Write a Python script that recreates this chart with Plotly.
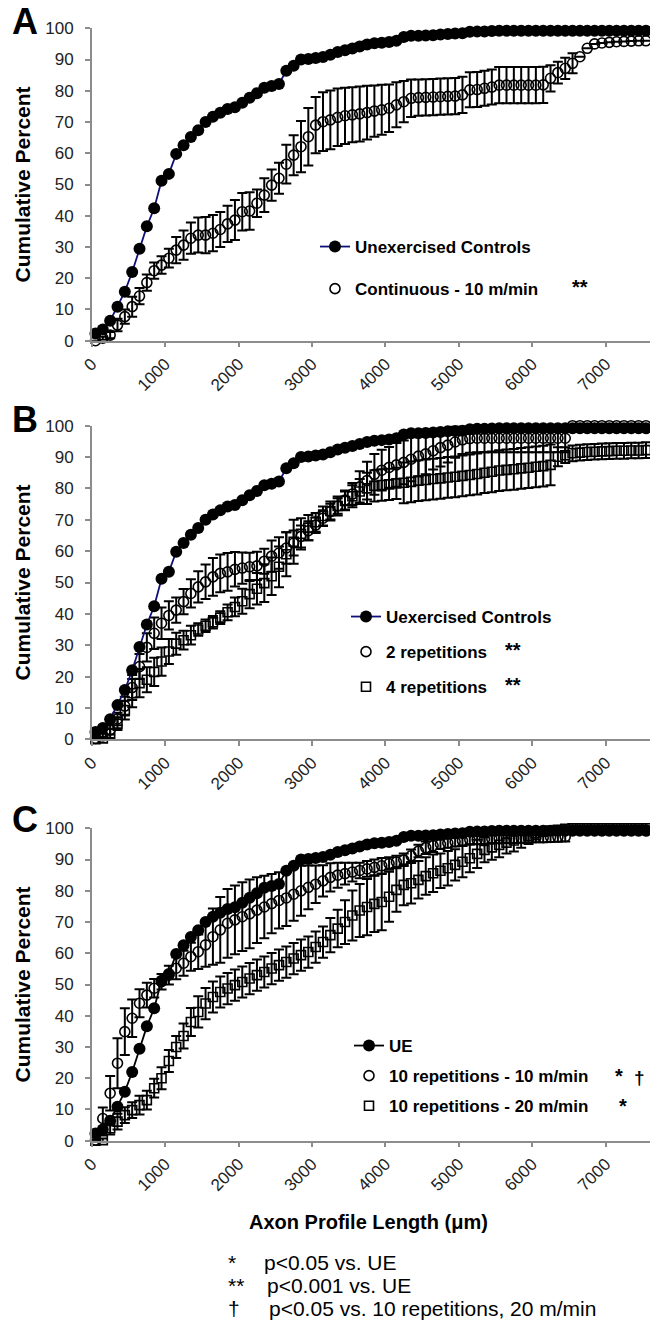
import plotly.graph_objects as go

# ---------------- data ----------------
length_um = [50, 150, 250, 350, 450, 550, 650, 750, 850, 950,
             1050, 1150, 1250, 1350, 1450, 1550, 1650, 1750, 1850, 1950,
             2050, 2150, 2250, 2350, 2450, 2550, 2650, 2750, 2850, 2950,
             3050, 3150, 3250, 3350, 3450, 3550, 3650, 3750, 3850, 3950,
             4050, 4150, 4250, 4350, 4450, 4550, 4650, 4750, 4850, 4950,
             5050, 5150, 5250, 5350, 5450, 5550, 5650, 5750, 5850, 5950,
             6050, 6150, 6250, 6350, 6450, 6550, 6650, 6750, 6850, 6950,
             7050, 7150, 7250, 7350, 7450, 7550]

ue = [2.3, 3.6, 6.4, 10.9, 15.7, 22.0, 29.4, 36.6, 42.4, 51.2,
      53.4, 59.8, 62.6, 65.2, 67.4, 70.0, 71.7, 73.0, 74.2, 74.7,
      76.2, 77.8, 79.2, 81.0, 81.5, 82.2, 86.4, 88.0, 90.0, 90.2,
      90.5, 90.8, 91.5, 92.4, 93.0, 93.5, 94.2, 94.8, 95.2, 95.4,
      95.6, 96.0, 97.2, 97.6, 97.6, 97.7, 97.8, 98.0, 98.2, 98.3,
      98.4, 98.9, 99.0, 99.0, 99.1, 99.2, 99.2, 99.2, 99.2, 99.2,
      99.2, 99.2, 99.2, 99.2, 99.2, 99.2, 99.2, 99.2, 99.2, 99.2,
      99.2, 99.2, 99.2, 99.2, 99.2, 99.2]

continuous_10 = [0.0, 0.8, 1.8, 5.0, 7.7, 10.9, 14.3, 18.6, 22.4, 24.2,
                 26.4, 29.0, 30.6, 32.8, 33.8, 33.8, 34.4, 35.6, 37.4, 38.6,
                 41.3, 41.5, 44.0, 46.6, 49.8, 52.0, 56.5, 59.4, 62.1, 65.3,
                 69.0, 70.1, 70.7, 71.5, 72.0, 72.3, 72.6, 73.0, 73.5, 73.9,
                 74.4, 75.5, 76.5, 77.6, 77.8, 77.9, 78.0, 78.1, 78.2, 78.3,
                 78.7, 80.3, 80.4, 80.8, 81.2, 81.8, 81.8, 81.8, 81.8, 81.8,
                 81.8, 81.9, 84.0, 85.8, 87.2, 88.8, 90.9, 93.6, 95.0, 95.3,
                 95.5, 95.7, 95.8, 95.9, 96.0, 96.0]
continuous_10_err = [0.0, 0.5, 1.0, 2.0, 2.3, 3.2, 2.6, 2.6, 2.6, 2.8,
                     3.0, 4.2, 4.7, 5.0, 5.6, 5.8, 5.8, 5.6, 5.8, 6.4,
                     6.0, 6.0, 4.4, 5.4, 5.0, 5.0, 6.2, 6.4, 8.2, 9.2,
                     9.0, 9.4, 9.4, 9.2, 9.0, 8.8, 8.8, 8.6, 8.2, 8.0,
                     7.6, 7.2, 6.6, 6.0, 5.8, 5.8, 5.8, 5.8, 5.8, 5.8,
                     5.8, 5.6, 5.6, 5.6, 5.6, 5.8, 5.8, 5.8, 5.8, 5.8,
                     5.8, 5.8, 4.2, 3.5, 3.4, 3.2, 0.0, 0.0, 0.0, 0.0,
                     0.0, 0.0, 0.0, 0.0, 0.0, 0.0]

reps_2 = [0.3, 1.1, 3.0, 6.5, 10.6, 16.5, 23.2, 29.3, 33.8, 37.0,
          39.5, 41.2, 43.9, 46.5, 48.6, 50.2, 51.8, 52.9, 53.4, 54.2,
          54.6, 55.0, 55.3, 56.8, 58.4, 59.4, 61.0, 62.6, 64.7, 66.5,
          68.3, 70.5, 72.6, 74.4, 76.3, 78.2, 80.5, 82.5, 84.5, 85.8,
          86.7, 87.5, 88.3, 89.3, 90.3, 91.0, 92.0, 93.0, 93.8, 94.8,
          95.5, 95.9, 96.0, 96.0, 96.0, 96.0, 96.0, 96.0, 96.0, 96.0,
          96.0, 96.0, 96.0, 96.0, 96.0, 100.0, 100.0, 100.0, 100.0, 100.0,
          100.0, 100.0, 100.0, 100.0, 100.0, 100.0]
reps_2_err = [0.3, 0.8, 1.5, 2.0, 3.0, 4.0, 4.0, 4.5, 5.0, 5.0,
              4.5, 4.0, 4.0, 4.5, 5.0, 5.5, 6.0, 6.0, 6.0, 5.5,
              5.0, 4.5, 4.5, 4.0, 5.0, 5.0, 5.0, 4.0, 3.5, 3.0,
              2.5, 2.5, 2.5, 2.5, 3.0, 3.5, 5.0, 6.0, 6.5, 6.5,
              6.5, 7.0, 7.0, 7.0, 6.5, 6.5, 6.0, 6.0, 5.5, 5.0,
              4.5, 4.5, 4.5, 4.5, 4.5, 4.5, 4.5, 4.5, 4.5, 4.5,
              4.5, 4.5, 4.5, 4.5, 4.5, 0.0, 0.0, 0.0, 0.0, 0.0,
              0.0, 0.0, 0.0, 0.0, 0.0, 0.0]

reps_4 = [0.0, 0.3, 1.9, 5.0, 9.3, 14.7, 17.9, 19.0, 21.5, 24.8,
          28.0, 30.5, 31.6, 33.2, 35.0, 36.2, 37.3, 38.8, 40.5, 42.2,
          44.0, 46.3, 48.0, 49.8, 52.0, 55.0, 59.0, 63.0, 65.5, 67.5,
          69.2, 71.2, 72.8, 74.4, 76.0, 77.5, 79.0, 80.0, 80.8, 81.1,
          81.3, 81.6, 81.8, 82.1, 82.5, 82.7, 83.0, 83.2, 83.5, 83.7,
          84.0, 84.3, 84.6, 85.0, 85.3, 85.7, 85.9, 86.1, 86.4, 86.6,
          86.9, 87.1, 87.5, 90.1, 90.6, 91.2, 91.4, 91.6, 91.7, 91.8,
          91.9, 92.0, 92.0, 92.1, 92.1, 92.2]
reps_4_err = [0.0, 0.5, 1.5, 2.0, 3.0, 4.5, 4.5, 4.0, 4.5, 4.5,
              4.0, 3.5, 3.0, 3.0, 2.0, 2.0, 2.0, 2.0, 2.5, 3.0,
              4.0, 4.5, 5.0, 6.0, 6.0, 6.5, 7.0, 7.0, 5.0, 4.0,
              3.0, 3.0, 3.0, 3.0, 3.0, 3.5, 4.0, 5.0, 5.0, 5.0,
              5.0, 5.0, 6.5, 6.5, 6.5, 6.5, 6.5, 6.5, 6.5, 6.5,
              6.5, 6.5, 6.5, 6.5, 6.5, 6.5, 6.5, 6.5, 6.5, 6.5,
              6.5, 6.5, 6.5, 3.0, 2.5, 2.5, 2.5, 2.5, 2.5, 2.5,
              2.5, 2.5, 2.5, 2.5, 2.5, 2.5]

reps10_speed10 = [0.2, 7.1, 15.2, 24.8, 34.9, 39.2, 44.0, 46.6, 48.8, 50.9,
                  53.0, 55.2, 56.8, 58.9, 60.5, 62.7, 65.3, 67.5, 69.6, 70.7,
                  71.7, 72.6, 73.8, 74.8, 75.9, 76.9, 77.7, 78.9, 80.0, 81.1,
                  82.1, 83.2, 84.3, 85.0, 85.5, 86.0, 86.5, 87.0, 87.5, 88.0,
                  88.7, 89.2, 89.9, 91.2, 92.7, 93.8, 94.4, 94.9, 95.3, 95.7,
                  96.0, 96.3, 96.4, 96.5, 96.6, 96.7, 96.8, 96.8, 96.9, 96.9,
                  97.0, 97.0, 97.1, 97.2, 97.3, 99.5, 99.5, 99.5, 99.5, 99.5,
                  99.5, 99.5, 99.5, 99.5, 99.5, 99.5]
reps10_speed10_err = [0.2, 3.5, 5.5, 8.0, 7.5, 6.0, 4.5, 4.0, 3.0, 2.5,
                      3.0, 3.5, 4.0, 4.5, 5.5, 7.0, 9.0, 10.5, 11.0, 11.0,
                      11.0, 11.0, 10.5, 10.0, 9.5, 9.0, 9.0, 8.5, 8.0, 7.0,
                      6.0, 5.0, 4.5, 4.0, 3.5, 3.0, 2.5, 2.5, 2.5, 2.5,
                      2.0, 2.0, 2.0, 2.0, 2.0, 2.0, 2.0, 1.5, 1.5, 1.5,
                      1.5, 1.5, 1.5, 1.5, 1.5, 1.5, 1.5, 1.5, 1.5, 1.5,
                      1.5, 1.5, 1.5, 1.5, 1.5, 0.5, 0.5, 0.5, 0.5, 0.5,
                      0.5, 0.5, 0.5, 0.5, 0.5, 0.5]

reps10_speed20 = [0.0, 0.2, 4.0, 6.1, 8.2, 9.8, 11.4, 13.0, 16.8, 20.0,
                  25.5, 30.0, 33.5, 38.0, 41.2, 43.9, 46.0, 47.6, 48.7, 49.8,
                  50.8, 51.9, 53.0, 54.0, 55.1, 56.2, 57.2, 58.3, 59.4, 60.4,
                  62.0, 63.6, 65.8, 67.9, 70.0, 72.1, 73.7, 74.8, 75.8, 76.4,
                  78.1, 80.3, 81.9, 82.4, 83.5, 84.7, 85.6, 86.4, 87.2, 88.3,
                  89.3, 90.4, 91.8, 93.1, 93.9, 94.7, 95.4, 96.1, 96.8, 97.5,
                  98.4, 99.0, 99.3, 99.5, 99.8, 100.0, 100.0, 100.0, 100.0, 100.0,
                  100.0, 100.0, 100.0, 100.0, 100.0, 100.0]
reps10_speed20_err = [0.0, 0.5, 2.0, 2.5, 2.5, 2.5, 3.0, 3.0, 3.0, 3.5,
                      3.5, 3.5, 4.0, 4.5, 5.0, 5.0, 5.0, 5.0, 5.0, 5.0,
                      5.0, 5.0, 5.0, 5.0, 5.0, 5.0, 5.0, 5.0, 5.0, 5.0,
                      5.0, 5.0, 5.5, 6.0, 7.0, 8.0, 8.5, 9.0, 9.0, 9.0,
                      8.0, 7.0, 6.5, 6.5, 6.0, 6.0, 6.0, 5.5, 5.5, 5.0,
                      5.0, 4.5, 4.5, 4.0, 4.0, 4.0, 3.5, 3.5, 3.0, 2.5,
                      2.0, 1.5, 1.0, 0.5, 0.5, 0.5, 0.5, 0.5, 0.5, 0.5,
                      0.5, 0.5, 0.5, 0.5, 0.5, 0.5]

x_ticks = [0, 1000, 2000, 3000, 4000, 5000, 6000, 7000]
y_ticks = [0, 10, 20, 30, 40, 50, 60, 70, 80, 90, 100]

# ---------------- figure ----------------
W, H = 650, 1323
FONT = "Liberation Sans, Arial, sans-serif"


def px(x):
    return x / W


def py(y):
    return 1 - y / H


fig = go.Figure()

ERR = dict(type="data", color="black", thickness=2, width=5)


def open_series(name, y, err, symbol, xa, ya, leg, rank, size):
    fig.add_trace(go.Scatter(
        x=length_um, y=y, name=name, mode="markers",
        marker=dict(symbol=symbol, size=size, color="black", line=dict(width=1.6, color="black")),
        error_y=dict(array=err, **ERR), cliponaxis=False,
        xaxis=xa, yaxis=ya, legend=leg, legendgroup=leg + name, legendrank=rank))


def ue_series(name, color, xa, ya, leg):
    fig.add_trace(go.Scatter(
        x=length_um, y=ue, name=name, mode="lines+markers",
        line=dict(color=color, width=1.8),
        marker=dict(symbol="circle", size=12, color="black"),
        cliponaxis=False, xaxis=xa, yaxis=ya, legend=leg,
        legendgroup=leg + name, legendrank=1))


# Panel A
open_series("Continuous - 10 m/min", continuous_10, continuous_10_err, "circle-open", "x", "y", "legend", 2, 10)
ue_series("Unexercised Controls", "#10107a", "x", "y", "legend")
# Panel B
open_series("4 repetitions", reps_4, reps_4_err, "square-open", "x2", "y2", "legend2", 3, 9)
open_series("2 repetitions", reps_2, reps_2_err, "circle-open", "x2", "y2", "legend2", 2, 10)
ue_series("Uexercised Controls", "#10107a", "x2", "y2", "legend2")
# Panel C
open_series("10 repetitions - 20 m/min", reps10_speed20, reps10_speed20_err, "square-open", "x3", "y3", "legend3", 3, 9)
open_series("10 repetitions - 10 m/min", reps10_speed10, reps10_speed10_err, "circle-open", "x3", "y3", "legend3", 2, 10)
ue_series("UE", "black", "x3", "y3", "legend3")

AX = dict(showline=True, linecolor="#8c8c8c", linewidth=1.5, ticks="outside",
          ticklen=5, tickwidth=1.5, tickcolor="#8c8c8c", showgrid=False,
          zeroline=False, automargin=False,
          tickfont=dict(family=FONT, size=17, color="#222"))

xdom = [px(91.8), 1.0]
ydoms = [(340.7, 28.3), (739.3, 425.7), (1140.7, 828.3)]
names = ["", "2", "3"]
layout = {}
for n, (yb, yt) in zip(names, ydoms):
    layout["xaxis" + n] = dict(AX, domain=xdom, range=[0, 7605], tickvals=x_ticks,
                               tickangle=-45, anchor="y" + n)
    layout["yaxis" + n] = dict(AX, domain=[py(yb), py(yt)], range=[0, 100],
                               tickvals=y_ticks, anchor="x" + n, ticklabelstandoff=8)

LEGFONT = dict(family=FONT, size=17, color="black", weight="bold")
layout["legend"] = dict(x=px(315), y=py(229), xanchor="left", yanchor="top",
                        font=LEGFONT, bgcolor="rgba(0,0,0,0)", tracegroupgap=17,
                        traceorder="grouped")
layout["legend2"] = dict(x=px(346), y=py(599), xanchor="left", yanchor="top",
                         font=LEGFONT, bgcolor="rgba(0,0,0,0)", tracegroupgap=10,
                         traceorder="grouped")
layout["legend3"] = dict(x=px(349), y=py(1028), xanchor="left", yanchor="top",
                         font=LEGFONT, bgcolor="rgba(0,0,0,0)", tracegroupgap=5,
                         traceorder="grouped")

fig.update_layout(width=W, height=H, margin=dict(l=0, r=0, t=0, b=0, autoexpand=False),
                  paper_bgcolor="white", plot_bgcolor="white", showlegend=True,
                  **layout)

ann = []


def text(x, y, s, size, bold=False, xanchor="center", angle=0):
    ann.append(dict(x=px(x), y=py(y), xref="paper", yref="paper", text=s,
                    showarrow=False, xanchor=xanchor, yanchor="middle", textangle=angle,
                    font=dict(family=FONT, size=size, color="black",
                              weight="bold" if bold else "normal")))


for letter, yc in zip(["A", "B", "C"], [21.5, 419, 819]):
    text(25, yc, letter, 36, bold=True)
for (yb, yt) in ydoms:
    text(22, (yb + yt) / 2, "Cumulative Percent", 21, bold=True, angle=-90)

text(570, 287, "**", 20, bold=True, xanchor="left")
text(503, 650, "**", 20, bold=True, xanchor="left")
text(503, 685, "**", 20, bold=True, xanchor="left")
text(613, 1076, "*", 20, bold=True, xanchor="left")
text(632, 1077, "†", 19, bold=True, xanchor="left")
text(617, 1106, "*", 20, bold=True, xanchor="left")

text(368, 1222, "Axon Profile Length (μm)", 20, bold=True)
text(226, 1262, "*", 21, xanchor="left")
text(262, 1262, "p<0.05 vs. UE", 21, xanchor="left")
text(226, 1285, "**", 21, xanchor="left")
text(265, 1285, "p<0.001 vs. UE", 21, xanchor="left")
text(226, 1308, "†", 21, xanchor="left")
text(267, 1308, "p<0.05 vs. 10 repetitions, 20 m/min", 21, xanchor="left")

fig.update_layout(annotations=ann)
fig.write_html("out.html", config={"displayModeBar": False},
               post_script="document.body.style.margin='0';document.body.style.padding='0';")
